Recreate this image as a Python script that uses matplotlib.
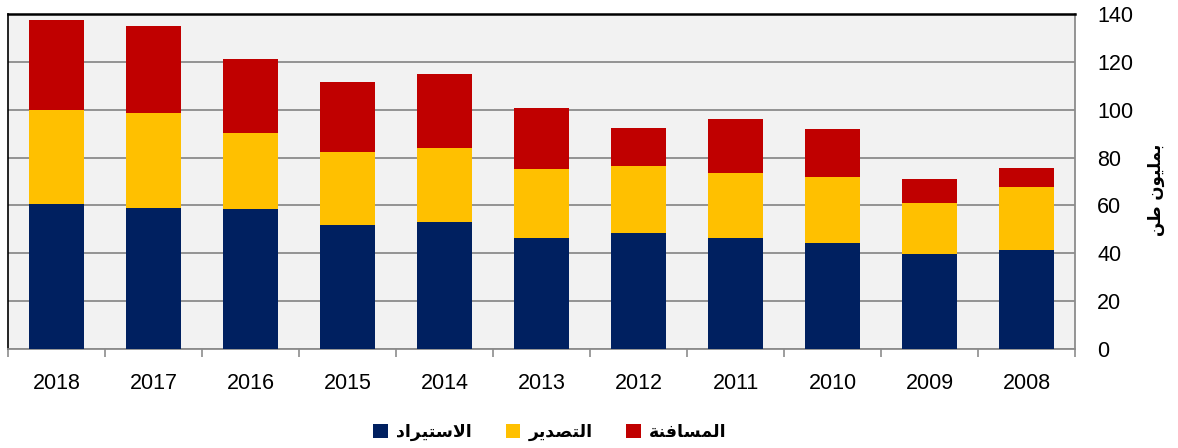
import matplotlib
matplotlib.use("Agg")
import matplotlib.pyplot as plt
from matplotlib.patches import Patch
from matplotlib.ticker import MultipleLocator
import numpy as np

years = ["2018", "2017", "2016", "2015", "2014", "2013", "2012", "2011", "2010", "2009", "2008"]
imports = [60.6, 58.9, 58.5, 51.8, 53.0, 46.4, 48.6, 46.4, 44.4, 39.8, 41.5]
exports = [39.3, 39.7, 31.8, 30.5, 31.0, 28.8, 28.0, 27.3, 27.5, 21.1, 26.2]
transship = [37.5, 36.4, 30.7, 29.3, 31.0, 25.5, 15.6, 22.3, 20.2, 10.0, 7.9]

series_names = ["الاستيراد", "التصدير", "المسافنة"]
y_label = "بمليون طن"
colors = ["#002060", "#FFC000", "#C00000"]


def shape_arabic(text):
    # matplotlib has no arabic shaping: pick presentation forms and reverse
    base = {'ا': 0xFE8D, 'ب': 0xFE8F, 'ة': 0xFE93, 'ت': 0xFE95, 'د': 0xFEA9,
            'ر': 0xFEAD, 'س': 0xFEB1, 'ص': 0xFEB9, 'ط': 0xFEC1, 'ف': 0xFED1,
            'ل': 0xFEDD, 'م': 0xFEE1, 'ن': 0xFEE5, 'و': 0xFEED, 'ي': 0xFEF1}
    dual = set('بتسصطفلمني')
    out = []
    i = 0
    while i < len(text):
        c = text[i]
        if c not in base:
            out.append(c)
            i += 1
            continue
        prev_joins = i > 0 and text[i - 1] in dual
        if c == 'ل' and i + 1 < len(text) and text[i + 1] == 'ا':
            out.append(chr(0xFEFC if prev_joins else 0xFEFB))
            i += 2
            continue
        next_joins = c in dual and i + 1 < len(text) and text[i + 1] in base
        out.append(chr(base[c] + (1 if prev_joins else 0) + (2 if next_joins else 0)))
        i += 1
    return ''.join(reversed(out))


plt.rcParams['font.family'] = ['Liberation Sans', 'DejaVu Sans']

fig = plt.figure(figsize=(11.78, 4.48), dpi=100)
ax = fig.add_axes([8 / 1178, 1 - 349 / 448, (1075 - 8) / 1178, (349 - 14) / 448])
ax.set_facecolor("#F2F2F2")

x = np.arange(len(years))
w = 0.57
bottom = np.zeros(len(years))
for vals, col in zip([imports, exports, transship], colors):
    ax.bar(x, vals, w, bottom=bottom, color=col, linewidth=0, zorder=3)
    bottom += np.array(vals)

ax.set_xlim(-0.5, len(years) - 0.5)
ax.set_ylim(0, 140)
ax.yaxis.set_major_locator(MultipleLocator(20))
ax.yaxis.tick_right()
ax.grid(axis="y", color="#8C8C8C", linewidth=1.3, zorder=1)

ax.set_xticks(x)
ax.set_xticklabels(years)
ax.set_xticks(np.arange(-0.5, len(years)), minor=True)
ax.tick_params(axis="x", which="major", length=0, pad=17, labelsize=15.5)
ax.tick_params(axis="x", which="minor", length=6, width=1.2, color="#8C8C8C", direction="out")
ax.tick_params(axis="y", length=0, pad=16, labelsize=15.5)

ax.spines["top"].set_color("black")
ax.spines["top"].set_linewidth(1.8)
ax.spines["left"].set_color("black")
ax.spines["left"].set_linewidth(1.2)
ax.spines["bottom"].set_color("#8C8C8C")
ax.spines["bottom"].set_linewidth(1.3)
ax.spines["right"].set_color("#8C8C8C")
ax.spines["right"].set_linewidth(1.3)

fig.text(1156 / 1178, 1 - 190 / 448, shape_arabic(y_label), rotation=90,
         ha="center", va="center", fontsize=12, fontweight="bold", family="DejaVu Sans")

handles = [Patch(facecolor=c, edgecolor="none") for c in colors]
fig.legend(handles, [shape_arabic(s) for s in series_names], loc="center",
           bbox_to_anchor=(550 / 1178, 1 - 432 / 448), ncol=3, frameon=False,
           prop={"family": "DejaVu Sans", "weight": "bold", "size": 12.5},
           handlelength=0.86, handleheight=0.86, handletextpad=0.46, columnspacing=1.95)

fig.savefig("out.png", dpi=100)
